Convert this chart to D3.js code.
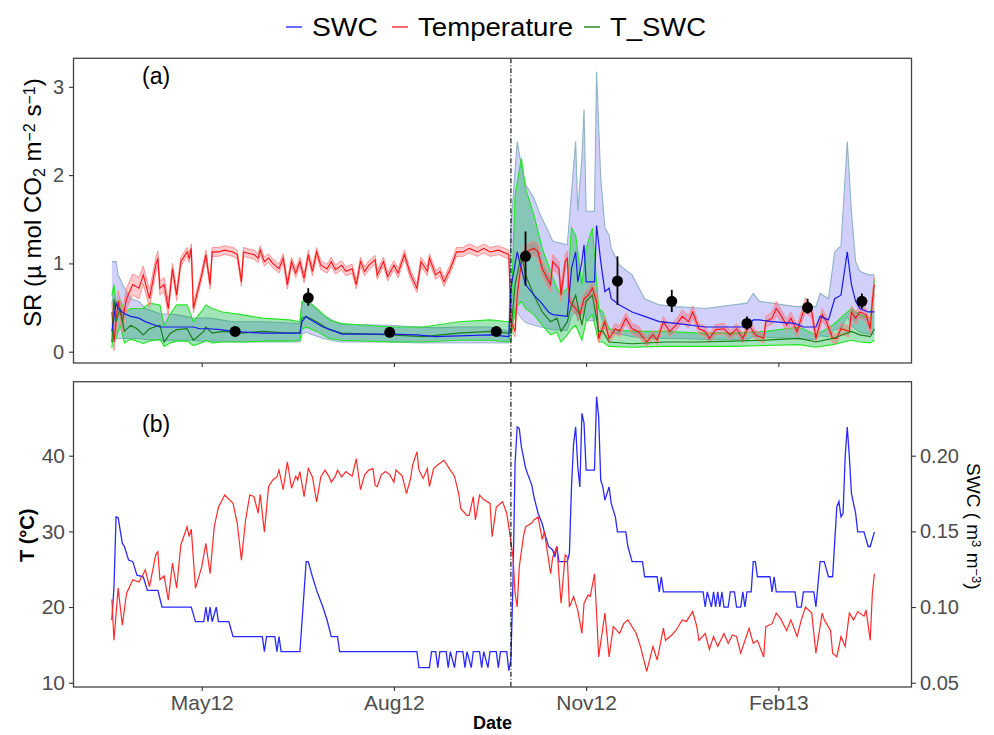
<!DOCTYPE html>
<html>
<head>
<meta charset="utf-8">
<script src="https://cdnjs.cloudflare.com/ajax/libs/d3/7.8.5/d3.min.js"></script>
<style>
  body { margin: 0; background: #fff; }
  text { font-family: "Liberation Sans", Arial, sans-serif; }
</style>
</head>
<body>
<svg id="chart" width="994" height="735"></svg>
<script>
// day 0 = 19 Mar 2012
var startDate = new Date(2012, 2, 19);
var breakDay = 191;

var legendLabels = ["SWC", "Temperature", "T_SWC"];
var xTicks = [new Date(2012, 4, 1), new Date(2012, 7, 1), new Date(2012, 10, 1), new Date(2013, 1, 1)];
var srTicks = [0, 1, 2, 3];
var tTicks = [10, 20, 30, 40];
var swcTicks = [0.05, 0.10, 0.15, 0.20];

// panel (a): SWC model [day, mean, lower, upper]
var srSwc = [
  [0,0.23,0.10,1.02],[2,0.55,0.15,1.02],[3,0.49,0.15,0.87],[6,0.43,0.15,0.72],[9,0.40,0.15,0.60],
  [13,0.38,0.15,0.57],[16,0.34,0.14,0.49],[23,0.28,0.13,0.43],[31,0.28,0.13,0.42],[39,0.28,0.13,0.38],
  [42,0.26,0.12,0.38],[47,0.26,0.12,0.38],[52,0.25,0.12,0.36],[58,0.23,0.11,0.34],[72,0.21,0.11,0.34],
  [90,0.21,0.11,0.32],[91,0.34,0.20,0.55],[93,0.40,0.22,0.59],[94,0.38,0.21,0.57],[101,0.28,0.15,0.42],
  [107,0.23,0.12,0.34],[110,0.20,0.11,0.31],[133,0.20,0.11,0.30],[146,0.19,0.10,0.28],[155,0.17,0.10,0.27],
  [166,0.18,0.10,0.28],[181,0.19,0.10,0.28],[190,0.17,0.10,0.23],[191,0.72,0.30,1.40],[194,1.13,0.45,2.38],
  [196,0.94,0.38,2.11],[198,0.76,0.33,1.89],[202,0.64,0.30,1.74],[205,0.57,0.28,1.55],[209,0.45,0.26,1.36],
  [211,0.42,0.25,1.25],[218,0.40,0.24,1.21],[220,0.94,0.40,1.80],[222,1.13,0.45,2.38],[223,0.79,0.35,1.59],
  [225,1.02,0.42,2.20],[226,1.21,0.48,2.74],[227,0.79,0.35,1.59],[231,0.79,0.35,1.59],[232,1.43,0.55,3.17],
  [234,1.02,0.42,1.96],[236,0.68,0.25,1.40],[238,0.72,0.25,1.32],[239,0.60,0.22,1.17],[243,0.53,0.20,0.98],
  [249,0.45,0.17,0.87],[255,0.40,0.16,0.60],[262,0.34,0.15,0.53],[270,0.32,0.15,0.51],[284,0.28,0.14,0.49],
  [304,0.28,0.14,0.55],[307,0.36,0.17,0.66],[310,0.36,0.17,0.57],[316,0.34,0.16,0.55],[327,0.32,0.15,0.51],
  [331,0.28,0.14,0.51],[337,0.28,0.14,0.51],[339,0.40,0.18,0.66],[343,0.36,0.17,0.60],[346,0.60,0.25,1.13],
  [349,0.64,0.26,1.20],[352,1.13,0.40,2.38],[354,0.76,0.30,1.59],[356,0.57,0.25,1.02],[358,0.49,0.22,0.91],
  [362,0.45,0.20,0.87],[365,0.45,0.20,0.87]
];

// panel (a): T_SWC model [day, mean, lower, upper]
var srTswc = [
  [0,0.11,0.04,0.64],[1,0.60,0.30,0.76],[2,0.34,0.15,0.55],[4,0.49,0.30,0.59],[6,0.23,0.10,0.45],
  [9,0.30,0.14,0.49],[12,0.26,0.12,0.49],[15,0.19,0.09,0.49],[18,0.26,0.12,0.55],[23,0.30,0.14,0.53],
  [25,0.11,0.06,0.30],[28,0.21,0.10,0.43],[31,0.25,0.12,0.53],[36,0.26,0.12,0.53],[39,0.13,0.07,0.34],
  [44,0.23,0.11,0.49],[45,0.28,0.13,0.53],[48,0.21,0.10,0.49],[53,0.23,0.11,0.45],[62,0.21,0.11,0.42],
  [72,0.23,0.12,0.38],[85,0.21,0.12,0.36],[90,0.21,0.13,0.34],[91,0.38,0.25,0.57],[93,0.40,0.28,0.59],
  [98,0.34,0.23,0.49],[104,0.25,0.15,0.36],[110,0.21,0.13,0.32],[133,0.19,0.11,0.28],[149,0.17,0.11,0.28],
  [166,0.21,0.13,0.34],[181,0.23,0.13,0.36],[190,0.21,0.11,0.34],[191,0.22,0.12,0.36],[193,0.76,0.49,1.77],
  [196,1.10,0.57,2.19],[198,0.87,0.49,1.85],[202,0.64,0.42,1.55],[206,0.45,0.30,1.17],[210,0.34,0.19,0.91],
  [213,0.38,0.22,0.72],[215,0.23,0.11,0.64],[218,0.34,0.19,0.72],[220,0.53,0.26,1.40],[222,0.64,0.30,1.32],
  [225,0.30,0.13,0.76],[227,0.57,0.34,1.17],[230,0.64,0.42,1.40],[233,0.23,0.11,0.49],[235,0.23,0.11,0.45],
  [238,0.11,0.06,0.26],[249,0.09,0.05,0.23],[265,0.11,0.06,0.23],[281,0.11,0.06,0.21],[297,0.12,0.06,0.21],
  [313,0.13,0.07,0.23],[329,0.15,0.08,0.28],[337,0.11,0.05,0.19],[345,0.15,0.08,0.30],[354,0.23,0.13,0.49],
  [358,0.19,0.11,0.42],[363,0.17,0.10,0.38],[365,0.26,0.13,0.83]
];

// panel (a): Temperature model [day, mean, half width of band]
var srTemp = [
  [0,0.45,0.12],[1,0.11,0.10],[3,0.57,0.12],[5,0.34,0.12],[7,0.60,0.12],[10,0.76,0.12],[13,0.72,0.12],
  [15,0.87,0.10],[18,0.60,0.10],[21,0.98,0.08],[22,1.06,0.08],[23,0.72,0.08],[25,0.76,0.08],[27,0.49,0.08],
  [29,0.94,0.06],[31,0.64,0.06],[33,1.02,0.05],[36,1.13,0.05],[37,1.06,0.05],[38,1.17,0.05],[39,0.49,0.05],
  [43,0.87,0.05],[45,1.10,0.05],[47,0.76,0.05],[48,1.13,0.05],[51,1.13,0.05],[54,1.15,0.05],[58,1.13,0.05],
  [60,1.10,0.05],[62,0.79,0.05],[63,1.13,0.05],[66,1.11,0.05],[68,1.10,0.05],[70,1.06,0.05],[71,1.15,0.05],
  [73,1.02,0.05],[75,1.06,0.05],[77,1.00,0.05],[80,0.94,0.05],[82,1.06,0.05],[84,0.76,0.05],[86,1.02,0.05],
  [88,0.89,0.05],[90,1.02,0.05],[92,0.83,0.05],[94,1.10,0.05],[96,0.91,0.05],[98,1.13,0.05],[100,0.98,0.05],
  [103,0.94,0.05],[105,1.02,0.05],[107,0.93,0.05],[110,0.98,0.05],[112,0.91,0.05],[115,0.94,0.05],
  [117,0.76,0.05],[119,1.02,0.05],[121,0.91,0.05],[123,0.98,0.05],[126,1.04,0.05],[127,0.87,0.05],
  [130,1.02,0.05],[132,0.85,0.05],[135,0.98,0.05],[137,0.89,0.05],[140,1.10,0.05],[143,0.87,0.05],
  [146,0.72,0.05],[148,1.02,0.05],[151,0.91,0.05],[152,1.06,0.05],[155,0.87,0.05],[157,0.91,0.05],
  [159,0.79,0.05],[162,0.94,0.05],[165,1.13,0.05],[168,1.13,0.05],[171,1.17,0.05],[175,1.13,0.05],
  [178,1.17,0.05],[181,1.13,0.05],[185,1.15,0.05],[190,1.10,0.05],[191,0.34,0.06],[193,0.23,0.06],
  [194,0.64,0.07],[196,1.02,0.08],[198,1.13,0.08],[202,1.17,0.08],[204,1.13,0.08],[206,0.94,0.08],
  [210,0.76,0.08],[211,1.02,0.08],[214,0.94,0.08],[215,0.64,0.08],[217,1.02,0.08],[218,1.06,0.08],
  [219,0.57,0.07],[222,0.49,0.07],[224,0.42,0.07],[226,0.60,0.07],[228,0.64,0.07],[230,0.72,0.07],
  [232,0.57,0.07],[233,0.15,0.05],[236,0.34,0.06],[238,0.15,0.05],[241,0.26,0.06],[243,0.23,0.06],
  [246,0.38,0.06],[249,0.26,0.06],[252,0.23,0.06],[256,0.11,0.05],[259,0.19,0.05],[261,0.13,0.05],
  [264,0.34,0.06],[267,0.23,0.06],[270,0.30,0.06],[273,0.40,0.07],[276,0.34,0.07],[278,0.45,0.07],
  [281,0.26,0.06],[284,0.23,0.06],[286,0.15,0.05],[289,0.25,0.06],[293,0.26,0.06],[296,0.19,0.05],
  [299,0.26,0.06],[302,0.15,0.05],[305,0.30,0.06],[308,0.19,0.05],[312,0.15,0.05],[313,0.34,0.06],
  [316,0.38,0.07],[318,0.49,0.08],[320,0.42,0.07],[323,0.30,0.06],[325,0.38,0.07],[328,0.23,0.06],
  [330,0.38,0.07],[332,0.53,0.08],[335,0.45,0.07],[337,0.15,0.05],[340,0.42,0.07],[342,0.34,0.06],
  [345,0.15,0.05],[347,0.15,0.05],[349,0.26,0.06],[353,0.23,0.06],[354,0.45,0.07],[356,0.38,0.07],
  [358,0.45,0.07],[361,0.42,0.07],[363,0.26,0.06],[364,0.57,0.08],[365,0.76,0.10]
];

// panel (a): measured SR [day, mean, lower, upper]
var srObs = [
  [59,0.23,0.20,0.26],[94,0.61,0.52,0.72],[133,0.22,0.20,0.24],[184,0.23,0.21,0.25],
  [198,1.08,0.75,1.36],[242,0.80,0.53,1.08],[268,0.57,0.45,0.70],[304,0.32,0.25,0.40],
  [333,0.50,0.43,0.60],[359,0.57,0.49,0.66]
];

// panel (b): soil temperature (°C) [day, value]
var tempB = [
  [0,21],[1,15.6],[3,22.5],[5,17.6],[7,21.8],[10,23.6],[13,23.3],[16,24.9],[18,22.7],[21,26.9],[22,27.3],
  [23,23.6],[25,24.1],[27,20.9],[29,25.8],[31,22.5],[33,28.2],[36,30.6],[37,29.3],[38,30.3],[40,22.5],
  [43,25.3],[45,28.4],[47,24.4],[49,30.6],[51,33.2],[54,34.8],[58,33.7],[60,31.1],[62,26.2],[64,31.5],
  [66,34.8],[68,34.6],[70,32.4],[71,34.9],[73,29.9],[75,35.9],[77,36.8],[79,37.2],[80,38.1],[82,35.5],
  [84,39.2],[86,35.7],[88,37.3],[89,36.8],[90,37.9],[92,34.6],[94,38.3],[96,37.2],[98,33.9],[100,37.2],
  [102,38.1],[104,37.2],[105,36.5],[107,37.3],[108,38.1],[110,37.2],[112,37.9],[115,37.3],[117,39.6],
  [119,35.5],[121,37.5],[123,38.1],[125,38.3],[126,36.1],[127,35.9],[129,37.5],[131,37.9],[133,37.5],
  [135,36.5],[136,38.1],[139,37.3],[141,35.0],[143,37.0],[144,38.8],[146,40.5],[147,38.1],[149,37.0],
  [151,38.3],[152,35.9],[154,38.3],[156,38.8],[159,39.4],[162,38.1],[164,37.3],[166,35.0],[167,33.0],
  [170,32.1],[171,32.1],[173,34.6],[174,31.5],[176,34.8],[178,34.2],[181,33.7],[182,29.3],[184,33.2],
  [187,33.9],[189,32.4],[190,30.6],[192,26.6],[193,21.8],[194,20.0],[195,25.3],[197,29.3],[198,30.6],
  [201,31.1],[202,31.5],[204,31.9],[206,28.9],[207,30.0],[210,24.4],[211,26.6],[213,28.0],[215,20.5],
  [217,26.9],[218,26.6],[219,20.0],[221,21.4],[223,19.6],[225,16.5],[226,20.5],[228,21.6],[229,21.4],
  [231,24.4],[232,19.2],[233,13.4],[236,19.2],[238,13.4],[240,17.4],[243,16.5],[245,17.8],[247,18.3],
  [249,17.4],[251,16.5],[253,14.8],[256,11.5],[259,14.8],[261,13.0],[264,17.2],[265,15.6],[268,16.3],
  [270,16.9],[273,18.3],[275,18.1],[278,19.4],[280,17.4],[281,15.6],[284,16.5],[286,14.4],[288,16.1],
  [290,14.8],[293,16.5],[295,15.2],[297,16.3],[299,16.1],[301,13.9],[305,17.2],[307,15.2],[309,15.6],
  [312,13.4],[313,17.4],[316,17.8],[318,19.2],[320,18.5],[323,16.9],[325,18.3],[328,16.1],[330,18.3],
  [332,20.0],[335,19.2],[337,13.9],[340,19.2],[341,18.3],[344,16.9],[345,13.9],[347,13.4],[349,16.1],
  [351,14.8],[353,19.2],[355,18.3],[357,19.4],[360,18.8],[361,19.6],[363,15.6],[364,21.8],[365,24.4]
];

// panel (b): soil water content (m3 m-3) [day, value]
var swcB = [
  [0,0.0914],[1,0.1134],[2,0.1596],[3,0.159],[5,0.142],[6,0.140],[8,0.131],[10,0.130],[12,0.121],
  [15,0.120],[17,0.111],[22,0.111],[24,0.100],[38,0.100],[40,0.0903],[44,0.0903],[45,0.100],[46,0.0903],
  [47,0.100],[48,0.0903],[50,0.100],[51,0.0903],[56,0.0903],[58,0.0804],[72,0.0804],[73,0.0705],
  [74,0.0804],[78,0.0804],[79,0.0705],[80,0.0804],[81,0.0705],[90,0.0705],[93,0.130],[94,0.130],
  [96,0.120],[98,0.111],[101,0.100],[103,0.0914],[105,0.0804],[108,0.0804],[109,0.0705],[146,0.0705],
  [147,0.06],[152,0.06],[153,0.0705],[155,0.0705],[156,0.06],[157,0.0705],[160,0.0705],[161,0.06],
  [162,0.0705],[164,0.06],[165,0.0705],[168,0.0705],[169,0.06],[170,0.0705],[172,0.06],[173,0.0705],
  [176,0.0705],[177,0.06],[178,0.0705],[180,0.06],[181,0.0705],[184,0.0705],[185,0.06],[186,0.0705],
  [189,0.0705],[190,0.058],[191,0.065],[192,0.1178],[193,0.195],[194,0.219],[195,0.218],[196,0.206],
  [198,0.192],[199,0.188],[201,0.1806],[202,0.173],[204,0.162],[206,0.155],[207,0.1497],[209,0.140],
  [211,0.1377],[212,0.133],[213,0.140],[214,0.130],[218,0.130],[219,0.1355],[220,0.1794],[221,0.208],
  [222,0.219],[223,0.1927],[224,0.1794],[225,0.228],[226,0.2215],[227,0.1905],[231,0.1905],[232,0.239],
  [233,0.2257],[234,0.1839],[235,0.1794],[236,0.1707],[238,0.1794],[239,0.1685],[241,0.1596],
  [242,0.1497],[246,0.1497],[247,0.140],[249,0.130],[254,0.130],[255,0.120],[261,0.120],[262,0.110],
  [263,0.120],[264,0.110],[283,0.110],[284,0.100],[285,0.110],[287,0.100],[288,0.110],[289,0.100],
  [290,0.110],[291,0.100],[292,0.110],[293,0.100],[295,0.100],[296,0.110],[298,0.110],[299,0.100],
  [301,0.100],[302,0.110],[303,0.100],[304,0.110],[306,0.110],[307,0.130],[308,0.130],[309,0.120],
  [315,0.120],[316,0.110],[317,0.120],[318,0.110],[327,0.110],[328,0.100],[330,0.100],[331,0.110],
  [336,0.110],[337,0.100],[339,0.130],[341,0.130],[343,0.120],[345,0.120],[347,0.1663],[348,0.1698],
  [349,0.1596],[350,0.162],[351,0.1993],[352,0.219],[353,0.1993],[354,0.175],[356,0.162],[357,0.1497],
  [360,0.1497],[362,0.140],[363,0.140],[365,0.1497]
];

var svg = d3.select("#chart");
var left = 73.5, right = 911.5;
var aTop = 58.3, aBot = 363, bTop = 381.7, bBot = 687;

function dayToDate(d) { return d3.timeDay.offset(startDate, d); }

var x = d3.scaleTime()
  .domain([new Date(2012, 1, 29, 15), new Date(2013, 3, 5, 18)])
  .range([left, right]);
var yA = d3.scaleLinear().domain([0, 3]).range([351.7, 86.8]);
var yT = d3.scaleLinear().domain([10, 40]).range([682.7, 455.7]);
var yS = d3.scaleLinear().domain([0.05, 0.20]).range([682.7, 455.7]);

var defs = svg.append("defs");
defs.append("clipPath").attr("id", "clipA").append("rect")
  .attr("x", left).attr("y", aTop).attr("width", right - left).attr("height", aBot - aTop);
defs.append("clipPath").attr("id", "clipB").append("rect")
  .attr("x", left).attr("y", bTop).attr("width", right - left).attr("height", bBot - bTop);

function linePath(rows, idx, ys) {
  return d3.line()
    .x(function(r) { return x(dayToDate(r[0])); })
    .y(function(r) { return ys(r[idx]); })(rows);
}
function bandPath(rows, loFn, hiFn, ys) {
  var up = rows.map(function(r) { return [x(dayToDate(r[0])), ys(hiFn(r))]; });
  var lo = rows.map(function(r) { return [x(dayToDate(r[0])), ys(loFn(r))]; }).reverse();
  return d3.line()(up.concat(lo)) + "Z";
}
function edgePath(rows, fn, ys) {
  return d3.line()
    .x(function(r) { return x(dayToDate(r[0])); })
    .y(function(r) { return ys(fn(r)); })(rows);
}

// ---------- panel (a) ----------
var gA = svg.append("g").attr("clip-path", "url(#clipA)");

// SWC band
gA.append("path").attr("d", bandPath(srSwc, function(r){return r[2];}, function(r){return r[3];}, yA))
  .attr("fill", "rgba(40,40,230,0.22)").attr("stroke", "none");
gA.append("path").attr("d", edgePath(srSwc, function(r){return r[3];}, yA))
  .attr("fill", "none").attr("stroke", "#8fb2c6").attr("stroke-width", 1.1);
gA.append("path").attr("d", edgePath(srSwc, function(r){return r[2];}, yA))
  .attr("fill", "none").attr("stroke", "#8fb2c6").attr("stroke-width", 1);

// T_SWC band
gA.append("path").attr("d", bandPath(srTswc, function(r){return r[2];}, function(r){return r[3];}, yA))
  .attr("fill", "rgba(0,180,60,0.36)").attr("stroke", "none");
gA.append("path").attr("d", edgePath(srTswc, function(r){return r[3];}, yA))
  .attr("fill", "none").attr("stroke", "#22e622").attr("stroke-width", 1.1);
gA.append("path").attr("d", edgePath(srTswc, function(r){return r[2];}, yA))
  .attr("fill", "none").attr("stroke", "#22e622").attr("stroke-width", 1.1);

// Temperature band
gA.append("path").attr("d", bandPath(srTemp, function(r){return r[1] - r[2];}, function(r){return r[1] + r[2];}, yA))
  .attr("fill", "rgba(255,40,60,0.25)").attr("stroke", "none");
gA.append("path").attr("d", edgePath(srTemp, function(r){return r[1] + r[2];}, yA))
  .attr("fill", "none").attr("stroke", "#ff8a8a").attr("stroke-width", 0.9);
gA.append("path").attr("d", edgePath(srTemp, function(r){return r[1] - r[2];}, yA))
  .attr("fill", "none").attr("stroke", "#ff8a8a").attr("stroke-width", 0.9);

// mean lines
gA.append("path").attr("d", linePath(srTemp, 1, yA))
  .attr("fill", "none").attr("stroke", "#ff1010").attr("stroke-width", 1.1);
gA.append("path").attr("d", linePath(srTswc, 1, yA))
  .attr("fill", "none").attr("stroke", "#1a801a").attr("stroke-width", 1.2);
gA.append("path").attr("d", linePath(srSwc, 1, yA))
  .attr("fill", "none").attr("stroke", "#1a1aee").attr("stroke-width", 1.2);

// observations
gA.selectAll("line.err").data(srObs).enter().append("line")
  .attr("class", "err")
  .attr("x1", function(d) { return x(dayToDate(d[0])); })
  .attr("x2", function(d) { return x(dayToDate(d[0])); })
  .attr("y1", function(d) { return yA(d[2]); })
  .attr("y2", function(d) { return yA(d[3]); })
  .attr("stroke", "#000").attr("stroke-width", 1.8);
gA.selectAll("circle").data(srObs).enter().append("circle")
  .attr("cx", function(d) { return x(dayToDate(d[0])); })
  .attr("cy", function(d) { return yA(d[1]); })
  .attr("r", 5.5).attr("fill", "#000");

// ---------- panel (b) ----------
var gB = svg.append("g").attr("clip-path", "url(#clipB)");
gB.append("path").attr("d", linePath(swcB, 1, yS))
  .attr("fill", "none").attr("stroke", "#2a2aff").attr("stroke-width", 1.3);
gB.append("path").attr("d", linePath(tempB, 1, yT))
  .attr("fill", "none").attr("stroke", "#ff2a2a").attr("stroke-width", 1.2);

// dash-dot break line
[[aTop, aBot], [bTop, bBot]].forEach(function(p) {
  svg.append("line")
    .attr("x1", x(dayToDate(breakDay))).attr("x2", x(dayToDate(breakDay)))
    .attr("y1", p[0]).attr("y2", p[1])
    .attr("stroke", "#000").attr("stroke-width", 1.1)
    .attr("stroke-dasharray", "5,2,1,2");
});

// panel borders
[[aTop, aBot], [bTop, bBot]].forEach(function(p) {
  svg.append("rect").attr("x", left).attr("y", p[0])
    .attr("width", right - left).attr("height", p[1] - p[0])
    .attr("fill", "none").attr("stroke", "#444").attr("stroke-width", 1.3);
});

// ---------- axes ----------
function styleAxis(g, size) {
  g.select(".domain").remove();
  g.selectAll(".tick line").attr("stroke", "#333").attr("stroke-width", 1.1);
  g.selectAll(".tick text").attr("fill", "#4d4d4d")
    .style("font-family", '"Liberation Sans", Arial, sans-serif').style("font-size", size + "px");
}

var xAxisA = svg.append("g").attr("transform", "translate(0," + aBot + ")")
  .call(d3.axisBottom(x).tickValues(xTicks).tickSize(4).tickFormat(""));
styleAxis(xAxisA, 20);
var xAxisB = svg.append("g").attr("transform", "translate(0," + bBot + ")")
  .call(d3.axisBottom(x).tickValues(xTicks).tickSize(4).tickPadding(4).tickFormat(d3.timeFormat("%b%y")));
styleAxis(xAxisB, 21);

var yAxisA = svg.append("g").attr("transform", "translate(" + left + ",0)")
  .call(d3.axisLeft(yA).tickValues(srTicks).tickSize(4.5).tickPadding(5).tickFormat(d3.format("d")));
styleAxis(yAxisA, 20);
var yAxisT = svg.append("g").attr("transform", "translate(" + left + ",0)")
  .call(d3.axisLeft(yT).tickValues(tTicks).tickSize(4.5).tickPadding(4).tickFormat(d3.format("d")));
styleAxis(yAxisT, 21);
var yAxisS = svg.append("g").attr("transform", "translate(" + right + ",0)")
  .call(d3.axisRight(yS).tickValues(swcTicks).tickSize(4.5).tickPadding(4).tickFormat(d3.format(".2f")));
styleAxis(yAxisS, 20);

// ---------- titles ----------
var srTitle = svg.append("text")
  .attr("transform", "translate(41," + ((aTop + aBot) / 2 - 8) + ") rotate(-90)")
  .attr("text-anchor", "middle").style("font-size", "24px").attr("fill", "#000");
srTitle.append("tspan").text("SR (\u00b5 mol CO");
srTitle.append("tspan").attr("baseline-shift", "-25%").style("font-size", "16px").text("2");
srTitle.append("tspan").text(" m");
srTitle.append("tspan").attr("baseline-shift", "40%").style("font-size", "16px").text("\u22122");
srTitle.append("tspan").text(" s");
srTitle.append("tspan").attr("baseline-shift", "40%").style("font-size", "16px").text("\u22121");
srTitle.append("tspan").text(")");

svg.append("text")
  .attr("transform", "translate(34," + ((bTop + bBot) / 2 + 1) + ") rotate(-90)")
  .attr("text-anchor", "middle").style("font-size", "20px").style("font-weight", "bold")
  .text("T (\u00b0C)");

var swcTitle = svg.append("text")
  .attr("transform", "translate(967," + ((bTop + bBot) / 2 - 8) + ") rotate(90)")
  .attr("text-anchor", "middle").style("font-size", "19px").attr("fill", "#000");
swcTitle.append("tspan").text("SWC ( m");
swcTitle.append("tspan").attr("baseline-shift", "40%").style("font-size", "13px").text("3");
swcTitle.append("tspan").text(" m");
swcTitle.append("tspan").attr("baseline-shift", "40%").style("font-size", "13px").text("\u22123");
swcTitle.append("tspan").text(")");

svg.append("text").attr("x", (left + right) / 2).attr("y", 729)
  .attr("text-anchor", "middle").style("font-size", "18px").style("font-weight", "bold")
  .text("Date");

svg.append("text").attr("x", 142).attr("y", 84).style("font-size", "23px").text("(a)");
svg.append("text").attr("x", 142).attr("y", 432).style("font-size", "23px").text("(b)");

// ---------- legend ----------
var legendColors = ["#3b3bff", "#ff3b3b", "#2e8b2e"];
var legendX = [286, 392, 584];
var legendW = [66, 155, 96];
var legend = svg.append("g");
legendLabels.forEach(function(lab, i) {
  legend.append("line").attr("x1", legendX[i]).attr("x2", legendX[i] + 16)
    .attr("y1", 27).attr("y2", 27).attr("stroke", legendColors[i]).attr("stroke-width", 1.5);
  legend.append("text").attr("x", legendX[i] + 26).attr("y", 36)
    .attr("textLength", legendW[i]).attr("lengthAdjust", "spacingAndGlyphs")
    .style("font-size", "25px").text(lab);
});
</script>
</body>
</html>
